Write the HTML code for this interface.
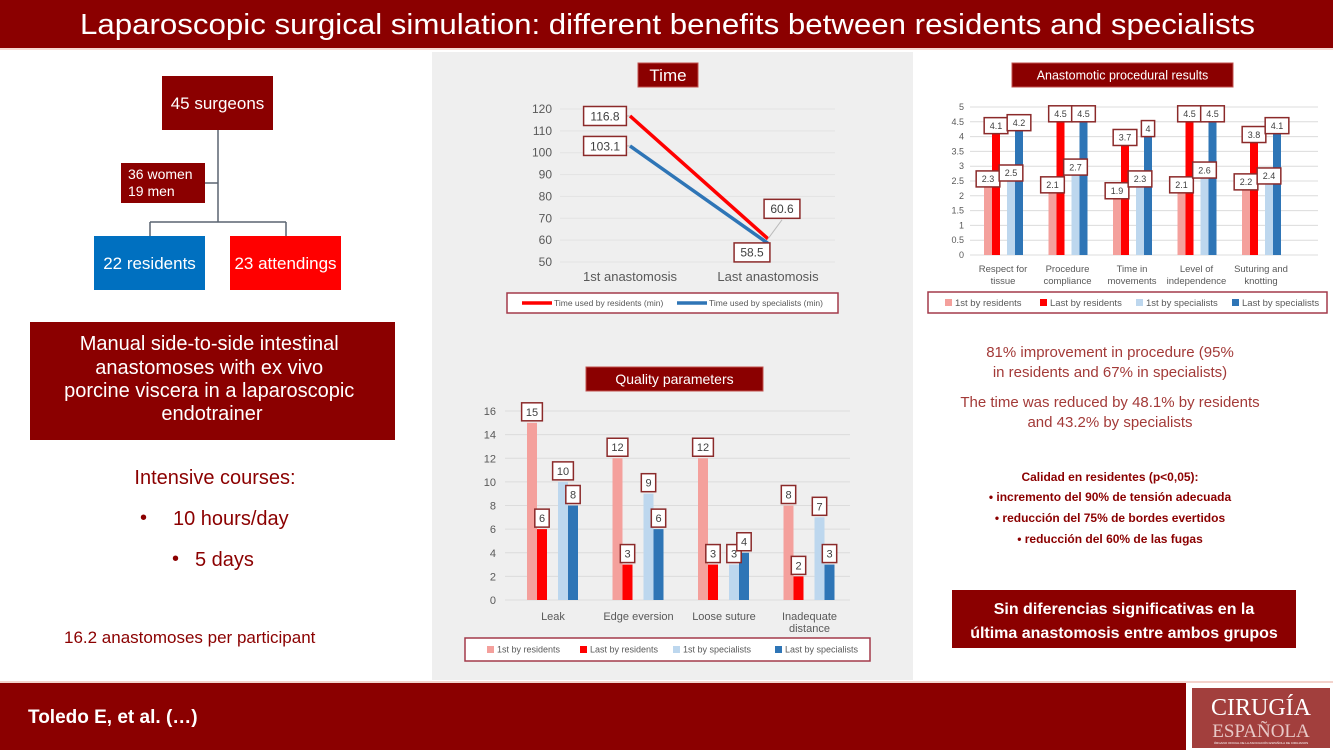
<!DOCTYPE html>
<html><head><meta charset="utf-8"><style>
html,body{margin:0;padding:0;background:#fff;}
svg{display:block;font-family:"Liberation Sans",sans-serif;}
</style></head><body>
<svg id="page" width="1333" height="750" viewBox="0 0 1333 750">
  <rect x="0" y="0" width="1333" height="750" fill="#fff"/>
  <g>
    <rect x="0" y="0" width="1333" height="48" fill="#8b0000"/>
    <text x="80" y="34" font-size="29" fill="#fff" textLength="1175" lengthAdjust="spacingAndGlyphs">Laparoscopic surgical simulation: different benefits between residents and specialists</text>
  </g>
  <rect x="0" y="48" width="1333" height="2" fill="#f7d9d3"/>
  <rect x="432" y="52" width="481" height="628" fill="#efefef"/>

  <g>
    <path d="M218 130 V222 M150 222 H286 M150 222 V236 M286 222 V236 M205 183 H218" stroke="#5a6470" stroke-width="1.5" fill="none"/>
    <rect x="162" y="76" width="111" height="54" fill="#8b0000"/>
    <text x="217.5" y="109" font-size="17" fill="#fff" text-anchor="middle">45 surgeons</text>
    <rect x="121" y="163" width="84" height="40" fill="#8b0000"/>
    <text x="128" y="179" font-size="14" fill="#fff">36 women</text>
    <text x="128" y="196" font-size="14" fill="#fff">19 men</text>
    <rect x="94" y="236" width="111" height="54" fill="#0070c0"/>
    <text x="149.5" y="269" font-size="17" fill="#fff" text-anchor="middle">22 residents</text>
    <rect x="230" y="236" width="111" height="54" fill="#ff0000"/>
    <text x="285.5" y="269" font-size="17" fill="#fff" text-anchor="middle">23 attendings</text>
  </g>
  <g>
    <rect x="30" y="322" width="365" height="118" fill="#8b0000"/>
    <text font-size="20" fill="#fff" text-anchor="middle">
      <tspan x="212" y="350">Manual side-to-side intestinal</tspan>
      <tspan x="212" y="374">anastomoses with ex vivo</tspan>
      <tspan x="212" y="397">porcine viscera in a laparoscopic</tspan>
      <tspan x="212" y="420">endotrainer</tspan>
    </text>
  </g>
  <g fill="#8b0000">
    <text x="215" y="484" font-size="20" text-anchor="middle">Intensive courses:</text>
    <text x="140" y="524" font-size="20">•</text>
    <text x="173" y="525" font-size="20">10 hours/day</text>
    <text x="172" y="565" font-size="20">•</text>
    <text x="195" y="566" font-size="20">5 days</text>
    <text x="64" y="643" font-size="17">16.2 anastomoses per participant</text>
  </g>

  <g id="timeChart"></g>
  <g id="qualChart"></g>
  <g id="anaChart"></g>

  <g fill="#a33a38" font-size="15" text-anchor="middle">
    <text x="1110" y="357">81% improvement in procedure (95%</text>
    <text x="1110" y="377">in residents and 67% in specialists)</text>
    <text x="1110" y="407">The time was reduced by 48.1% by residents</text>
    <text x="1110" y="427">and 43.2% by specialists</text>
  </g>
  <g fill="#8b0000" font-size="12" font-weight="bold" text-anchor="middle">
    <text x="1110" y="481">Calidad en residentes (p&lt;0,05):</text>
    <text x="1110" y="501">•    incremento del 90% de tensión adecuada</text>
    <text x="1110" y="522">•    reducción del 75% de bordes evertidos</text>
    <text x="1110" y="543">•    reducción del 60% de las fugas</text>
  </g>
  <g>
    <rect x="952" y="590" width="344" height="58" fill="#8b0000"/>
    <text x="1124" y="614" font-size="16" font-weight="bold" fill="#fff" text-anchor="middle">Sin diferencias significativas en la</text>
    <text x="1124" y="638" font-size="16" font-weight="bold" fill="#fff" text-anchor="middle">última anastomosis entre ambos grupos</text>
  </g>

  <g>
    <rect x="0" y="683" width="1333" height="67" fill="#8b0000"/>
    <rect x="0" y="681" width="1333" height="2" fill="#f3d3cc"/>
    <text x="28" y="723" font-size="19" font-weight="bold" fill="#fff">Toledo E, et al. (…)</text>
    <rect x="1186" y="683" width="147" height="67" fill="#fff"/>
    <rect x="1192" y="688" width="138" height="60" fill="#a23f3d"/>
    <text x="1261" y="715" font-family="Liberation Serif,serif" font-size="24" fill="#fff" text-anchor="middle">CIRUGÍA</text>
    <text x="1261" y="737" font-family="Liberation Serif,serif" font-size="19" fill="#e8c9c7" text-anchor="middle">ESPAÑOLA</text>
    <text x="1261" y="744" font-size="3" fill="#fff" text-anchor="middle">ÓRGANO OFICIAL DE LA ASOCIACIÓN ESPAÑOLA DE CIRUJANOS</text>
  </g>
</svg>
<script>
const timeCategories = ["1st anastomosis", "Last anastomosis"];
const timeResidents = [116.8, 60.6];
const timeSpecialists = [103.1, 58.5];
const timeTicks = [50, 60, 70, 80, 90, 100, 110, 120];
const qualCategories = [["Leak"], ["Edge eversion"], ["Loose suture"], ["Inadequate", "distance"]];
const qualFirstRes = [15, 12, 12, 8];
const qualLastRes = [6, 3, 3, 2];
const qualFirstSpec = [10, 9, 3, 7];
const qualLastSpec = [8, 6, 4, 3];
const qualTicks = [0, 2, 4, 6, 8, 10, 12, 14, 16];
const anaCategories = [["Respect for", "tissue"], ["Procedure", "compliance"], ["Time in", "movements"], ["Level of", "independence"], ["Suturing and", "knotting"]];
const anaFirstRes = [2.3, 2.1, 1.9, 2.1, 2.2];
const anaLastRes = [4.1, 4.5, 3.7, 4.5, 3.8];
const anaFirstSpec = [2.5, 2.7, 2.3, 2.6, 2.4];
const anaLastSpec = [4.2, 4.5, 4.0, 4.5, 4.1];
const anaTicks = [0, 0.5, 1, 1.5, 2, 2.5, 3, 3.5, 4, 4.5, 5];

const NS = "http://www.w3.org/2000/svg";
const C_FR = "#f4a09c", C_LR = "#ff0000", C_FS = "#bdd7ee", C_LS = "#2e75b6", DR = "#8b0000";
function mk(parent, tag, attrs, txt) {
  const e = document.createElementNS(NS, tag);
  for (const k in attrs) e.setAttribute(k, attrs[k]);
  if (txt !== undefined) e.textContent = txt;
  parent.appendChild(e);
  return e;
}
function labelBox(g, cx, cy, txt, fs) {
  const w = txt.length * fs * 0.58 + 8, h = fs + 7;
  const b = mk(g, "rect", {x: cx - w / 2, y: cy - h / 2, width: w, height: h, fill: "#fff", stroke: "#8b2a2a", "stroke-width": 1.5});
  
  
  const t = mk(g, "text", {x: cx, y: cy + fs * 0.36, "font-size": fs, fill: "#404040", "text-anchor": "middle"}, txt);
  
  
}
function titleBox(g, x, y, w, h, txt, fs) {
  const r = mk(g, "rect", {x, y, width: w, height: h, fill: DR, stroke: "#c0504d", "stroke-width": 1});
  
  
  const t = mk(g, "text", {x: x + w / 2, y: y + h / 2 + fs * 0.36, "font-size": fs, fill: "#fff", "text-anchor": "middle"}, txt);
  
  
}
function legend(g, x, y, w, h, items, fs, sw, lineStyle) {
  const r = mk(g, "rect", {x, y, width: w, height: h, fill: "#fff", stroke: "#a33a4a", "stroke-width": 1.5});
  
  
  items.forEach(it => {
    if (lineStyle) {
      const l = mk(g, "line", {x1: it.x, x2: it.x + sw, y1: y + h / 2, y2: y + h / 2, stroke: it.c, "stroke-width": 3.5});
      
      
    } else {
      const s = mk(g, "rect", {x: it.x, y: y + h / 2 - 3.5, width: 7, height: 7, fill: it.c});
      
      
    }
    const t = mk(g, "text", {x: it.x + (lineStyle ? sw + 2 : 10), y: y + h / 2 + fs * 0.36, "font-size": fs, fill: "#595959"}, it.t);
    
    
  });
}

(function () {
  const g = document.getElementById("timeChart");
  titleBox(g, 638, 63, 60, 24, "Time", 17);
  const y = v => 262 - (v - 50) * (262 - 109) / 70;
  const x = i => 630 + i * 138;
  timeTicks.forEach(t => {
    const l = mk(g, "line", {x1: 560, x2: 835, y1: y(t), y2: y(t), stroke: "#e3e3e3", "stroke-width": 1});
    
    
    const tx = mk(g, "text", {x: 552, y: y(t) + 4, "font-size": 12, fill: "#595959", "text-anchor": "end"}, t);
    
    
  });
  timeCategories.forEach((c, i) => {
    const t = mk(g, "text", {x: x(i), y: 281, "font-size": 13, fill: "#595959", "text-anchor": "middle"}, c);
    
    
  });
  const series = [[timeResidents, C_LR], [timeSpecialists, C_LS]];
  series.forEach(([vals, col]) => {
    const pts = vals.map((v, i) => x(i) + "," + y(v)).join(" ");
    const pl = mk(g, "polyline", {points: pts, fill: "none", stroke: col, "stroke-width": 3.5});
    
    
  });
  mk(g, "line", {x1: x(0) - 7, y1: y(timeResidents[0]), x2: x(0), y2: y(timeResidents[0]), stroke: "#bbb"});
  mk(g, "line", {x1: x(0) - 7, y1: y(timeSpecialists[0]), x2: x(0), y2: y(timeSpecialists[0]), stroke: "#bbb"});
  mk(g, "line", {x1: x(1), y1: y(timeResidents[1]), x2: x(1) + 14, y2: y(timeResidents[1]) - 19, stroke: "#bbb"});
  labelBox(g, x(0) - 25, y(timeResidents[0]), String(timeResidents[0]), 12);
  labelBox(g, x(0) - 25, y(timeSpecialists[0]), String(timeSpecialists[0]), 12);
  labelBox(g, x(1) + 14, y(timeResidents[1]) - 30, String(timeResidents[1]), 12);
  labelBox(g, x(1) - 16, y(timeSpecialists[1]) + 9, String(timeSpecialists[1]), 12);
  legend(g, 507, 293, 331, 20, [{x: 522, c: C_LR, t: "Time used by residents (min)"}, {x: 677, c: C_LS, t: "Time used by specialists (min)"}], 8.5, 30, true);
})();

(function () {
  const g = document.getElementById("qualChart");
  titleBox(g, 586, 367, 177, 24, "Quality parameters", 14);
  const y = v => 600 - v * (600 - 411) / 16;
  const cx = i => 553 + i * 85.5;
  qualTicks.forEach(t => {
    const l = mk(g, "line", {x1: 505, x2: 850, y1: y(t), y2: y(t), stroke: "#dcdcdc", "stroke-width": 1});
    
    
    const tx = mk(g, "text", {x: 496, y: y(t) + 4, "font-size": 11, fill: "#595959", "text-anchor": "end"}, t);
    
    
  });
  const series = [[qualFirstRes, C_FR, -26], [qualLastRes, C_LR, -16], [qualFirstSpec, C_FS, 5], [qualLastSpec, C_LS, 15]];
  qualCategories.forEach((c, i) => {
    c.forEach((ln, j) => {
      const t = mk(g, "text", {x: cx(i), y: 620 + j * 12, "font-size": 11, fill: "#595959", "text-anchor": "middle"}, ln);
      
      
    });
    series.forEach(([vals, col, off]) => {
      const v = vals[i];
      const b = mk(g, "rect", {x: cx(i) + off, y: y(v), width: 10, height: y(0) - y(v), fill: col});
      
      
    });
    series.forEach(([vals, col, off]) => {
      labelBox(g, cx(i) + off + 5, y(vals[i]) - 11, String(vals[i]), 11);
    });
  });
  legend(g, 465, 638, 405, 23, [{x: 487, c: C_FR, t: "1st by residents"}, {x: 580, c: C_LR, t: "Last by residents"}, {x: 673, c: C_FS, t: "1st by specialists"}, {x: 775, c: C_LS, t: "Last by specialists"}], 9, 0, false);
})();

(function () {
  const g = document.getElementById("anaChart");
  titleBox(g, 1012, 63, 221, 24, "Anastomotic procedural results", 12.5);
  const y = v => 255 - v * (255 - 107) / 5;
  const cx = i => 1003 + i * 64.5;
  anaTicks.forEach(t => {
    const l = mk(g, "line", {x1: 970, x2: 1318, y1: y(t), y2: y(t), stroke: "#dcdcdc", "stroke-width": 1});
    
    
    const tx = mk(g, "text", {x: 964, y: y(t) + 3, "font-size": 9, fill: "#595959", "text-anchor": "end"}, t);
    
    
  });
  const series = [[anaFirstRes, C_FR, -19], [anaLastRes, C_LR, -11], [anaFirstSpec, C_FS, 4], [anaLastSpec, C_LS, 12]];
  anaCategories.forEach((c, i) => {
    c.forEach((ln, j) => {
      const t = mk(g, "text", {x: cx(i), y: 272 + j * 12, "font-size": 9.5, fill: "#595959", "text-anchor": "middle"}, ln);
      
      
    });
    series.forEach(([vals, col, off]) => {
      const v = vals[i];
      const b = mk(g, "rect", {x: cx(i) + off, y: y(v), width: 8, height: y(0) - y(v), fill: col});
      
      
    });
    series.forEach(([vals, col, off]) => {
      labelBox(g, cx(i) + off + 4, y(vals[i]) - 8, String(vals[i]), 9);
    });
  });
  legend(g, 928, 292, 399, 21, [{x: 945, c: C_FR, t: "1st by residents"}, {x: 1040, c: C_LR, t: "Last by residents"}, {x: 1136, c: C_FS, t: "1st by specialists"}, {x: 1232, c: C_LS, t: "Last by specialists"}], 9.5, 0, false);
})();
</script>
</body></html>
